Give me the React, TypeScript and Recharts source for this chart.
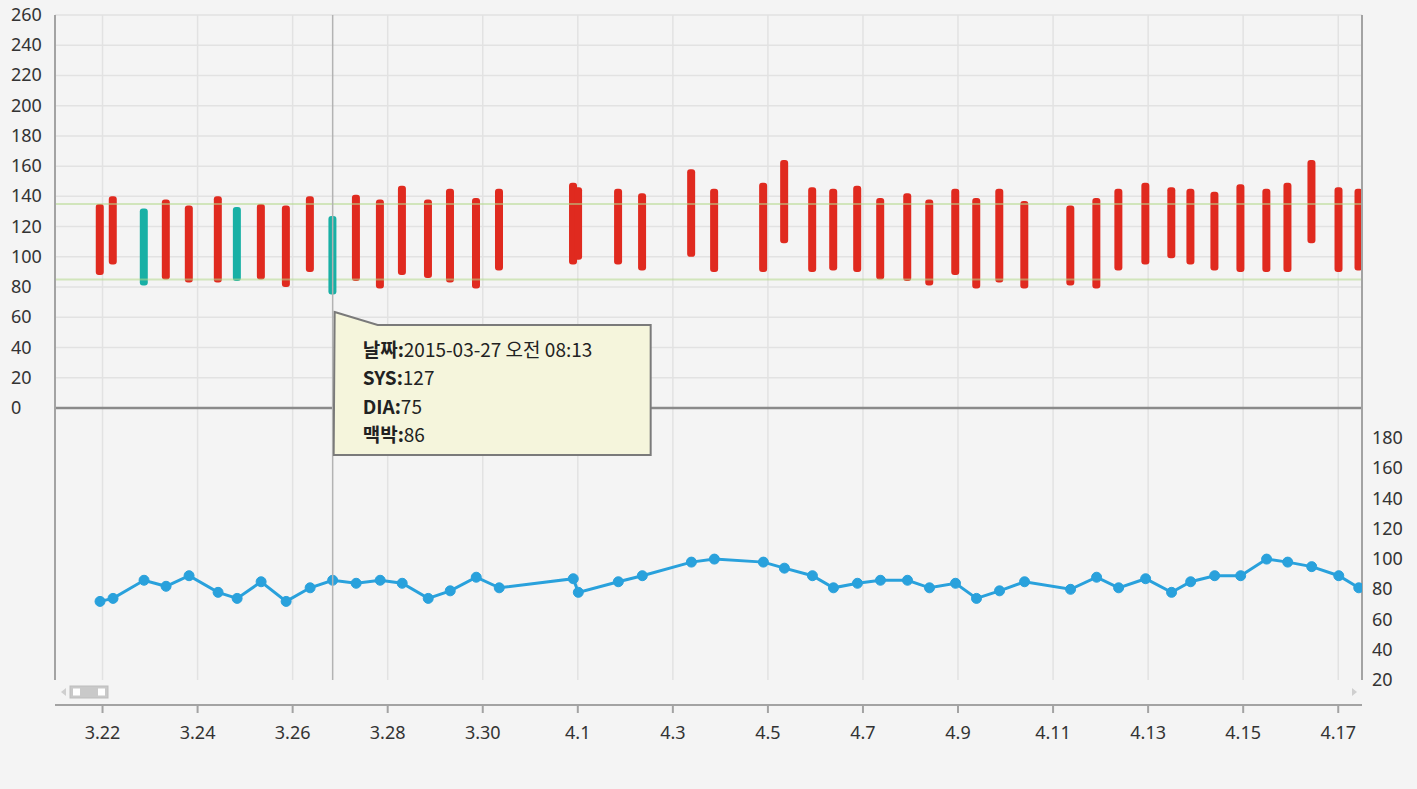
import React from 'react';
import {
  ComposedChart,
  Bar,
  Line,
  XAxis,
  YAxis,
  CartesianGrid,
  ReferenceLine,
  Tooltip,
  Rectangle,
} from 'recharts';

// ---------- data ----------
const YEAR = 2015;

const times = [
  '03-22 10:44', '03-22 17:18', '03-23 08:58', '03-23 20:05', '03-24 07:42',
  '03-24 22:21', '03-25 07:58', '03-25 20:05', '03-26 08:43', '03-26 20:50',
  '03-27 08:13', '03-27 20:05', '03-28 08:12', '03-28 19:19', '03-29 08:28',
  '03-29 19:35', '03-30 08:43', '03-30 20:20', '04-01 09:43', '04-01 12:16',
  '04-02 08:28', '04-02 20:35', '04-03 21:22', '04-04 08:58', '04-05 09:43',
  '04-05 20:20', '04-06 10:29', '04-06 21:06', '04-07 09:13', '04-07 20:50',
  '04-08 10:29', '04-08 21:36', '04-09 10:44', '04-09 21:20', '04-10 08:58',
  '04-10 21:36', '04-11 20:50', '04-12 09:59', '04-12 21:06', '04-13 10:44',
  '04-13 23:50', '04-14 09:29', '04-14 21:36', '04-15 10:44', '04-15 23:50',
  '04-16 10:29', '04-16 22:36', '04-17 12:16', '04-17 22:22',
];

const sysValues = [
  135, 140, 132, 138, 134, 140, 133, 135, 134, 140,
  127, 141, 138, 147, 138, 145, 139, 145, 149, 146,
  145, 142, 158, 145, 149, 164, 146, 145, 147, 139,
  142, 138, 145, 139, 145, 137, 134, 139, 145, 149,
  146, 145, 143, 148, 145, 149, 164, 146, 145,
];

const diaValues = [
  88, 95, 81, 85, 83, 83, 84, 85, 80, 90,
  75, 84, 79, 88, 86, 83, 79, 91, 95, 98,
  95, 91, 100, 90, 90, 109, 90, 91, 90, 85,
  84, 81, 88, 79, 83, 79, 81, 79, 91, 95,
  99, 95, 91, 90, 90, 90, 109, 90, 91,
];

const pulseValues = [
  72, 74, 86, 82, 89, 78, 74, 85, 72, 81,
  86, 84, 86, 84, 74, 79, 88, 81, 87, 78,
  85, 89, 98, 100, 98, 94, 89, 81, 84, 86,
  86, 81, 84, 74, 79, 85, 80, 88, 81, 87,
  78, 85, 89, 89, 100, 98, 95, 89, 81,
];

// n = normal (teal), h = high (red)
const statusValues = [
  'h', 'h', 'n', 'h', 'h', 'h', 'n', 'h', 'h', 'h',
  'n', 'h', 'h', 'h', 'h', 'h', 'h', 'h', 'h', 'h',
  'h', 'h', 'h', 'h', 'h', 'h', 'h', 'h', 'h', 'h',
  'h', 'h', 'h', 'h', 'h', 'h', 'h', 'h', 'h', 'h',
  'h', 'h', 'h', 'h', 'h', 'h', 'h', 'h', 'h',
];

const tickLabels = [
  '3.22', '3.24', '3.26', '3.28', '3.30', '4.1', '4.3',
  '4.5', '4.7', '4.9', '4.11', '4.13', '4.15', '4.17',
];

const bpTicks = [0, 20, 40, 60, 80, 100, 120, 140, 160, 180, 200, 220, 240, 260];
const pulseTicks = [20, 40, 60, 80, 100, 120, 140, 160, 180];
const bpDomain: [number, number] = [-180, 260];
const pulseDomain: [number, number] = [20, 460];
const xDomain: [number, number] = [0.5, 28];
const refHigh = 135;
const refLow = 85;
const TOOLTIP_INDEX = 10;

// ---------- helpers ----------
const dayOffset = (month: number, day: number) => (month === 3 ? day - 21 : day + 10);

const parseTime = (s: string) => {
  const [md, hm] = s.split(' ');
  const [mo, d] = md.split('-').map(Number);
  const [h, m] = hm.split(':').map(Number);
  return dayOffset(mo, d) + h / 24 + m / 1440;
};

const tickValues = tickLabels.map((l) => {
  const [mo, d] = l.split('.').map(Number);
  return dayOffset(mo, d) + 0.5;
});

const labelFor = (v: number) => {
  const i = tickValues.findIndex((t) => Math.abs(t - v) < 1e-6);
  return i >= 0 ? tickLabels[i] : '';
};

const data = times.map((t, i) => ({
  time: t,
  x: parseTime(t),
  sys: sysValues[i],
  dia: diaValues[i],
  pulse: pulseValues[i],
  status: statusValues[i],
}));

const RED = '#e02a1f';
const TEAL = '#18b0a5';
const BLUE = '#29a1dc';
const GRID = '#e2e2e2';
const AXIS = '#a3a3a3';
const BAR_W = 8;
const FONT = '"Noto Sans", "DejaVu Sans", sans-serif';
const KFONT = '"Noto Sans CJK KR", "Noto Sans", sans-serif';

const formatDate = (t: string) => {
  const [md, hm] = t.split(' ');
  const [h, m] = hm.split(':').map(Number);
  const ampm = h < 12 ? '오전' : '오후';
  const h12 = h % 12 === 0 && h >= 12 ? 12 : h % 12;
  return `${YEAR}-${md} ${ampm} ${String(h12).padStart(2, '0')}:${String(m).padStart(2, '0')}`;
};

const LeftTick = (props: any) => {
  const { y, payload } = props;
  return (
    <text x={11} y={y} dy={6} fontSize={18} fill="#333" fontFamily={FONT} textAnchor="start">
      {payload.value}
    </text>
  );
};

const RightTick = (props: any) => {
  const { y, payload } = props;
  return (
    <text x={1372} y={y} dy={6} fontSize={18} fill="#333" fontFamily={FONT} textAnchor="start">
      {payload.value}
    </text>
  );
};

// widen each range bar around the centre the library computed
const BpBar = (props: any) => {
  const { x, y, width, height, payload } = props;
  const cx = x + width / 2;
  return (
    <Rectangle
      x={cx - BAR_W / 2}
      y={y}
      width={BAR_W}
      height={height}
      radius={3}
      fill={payload.status === 'n' ? TEAL : RED}
    />
  );
};

const TipContent = (props: any) => {
  const { active, payload } = props;
  if (!active || !payload || !payload.length) return null;
  const d = payload[0].payload;
  const rows: [string, string][] = [
    ['날짜:', formatDate(d.time)],
    ['SYS:', String(d.sys)],
    ['DIA:', String(d.dia)],
    ['맥박:', String(d.pulse)],
  ];
  return (
    <div style={{ position: 'relative', width: 320, height: 147 }}>
      <svg width={320} height={147} style={{ position: 'absolute', left: 0, top: 0 }}>
        <polygon
          points="2,2 45,15 318,15 318,145 1,145"
          fill="#f5f5dc"
          stroke="#7a7a7a"
          strokeWidth={2}
        />
      </svg>
      <div
        style={{
          position: 'absolute',
          left: 30,
          top: 25,
          fontFamily: KFONT,
          fontSize: 19,
          lineHeight: '28.4px',
          color: '#222',
          whiteSpace: 'nowrap',
        }}
      >
        {rows.map(([k, v]) => (
          <div key={k}>
            <span style={{ fontWeight: 700 }}>{k}</span>
            <span>{v}</span>
          </div>
        ))}
      </div>
    </div>
  );
};

export default function App() {
  return (
    <div style={{ position: 'relative', width: 1417, height: 789, background: '#f4f4f4' }}>
      <style>{'body{margin:0;background:#f4f4f4;}'}</style>

      {/* x axis (drawn first so the main chart sits above it) */}
      <div style={{ position: 'absolute', left: 0, top: 680 }}>
        <ComposedChart
          width={1417}
          height={80}
          data={data}
          margin={{ top: 0, right: 55, bottom: 0, left: 55 }}
        >
          <XAxis
            dataKey="x"
            type="number"
            domain={xDomain}
            ticks={tickValues}
            interval={0}
            allowDataOverflow
            height={55}
            tickFormatter={labelFor}
            axisLine={{ stroke: AXIS, strokeWidth: 2 }}
            tickLine={{ stroke: AXIS, strokeWidth: 2 }}
            tickSize={8}
            tickMargin={13}
            tick={{ fontSize: 18, fill: '#333', fontFamily: FONT }}
          />
          <YAxis hide domain={pulseDomain} />
          <Line
            dataKey="pulse"
            stroke="transparent"
            dot={false}
            activeDot={false}
            isAnimationActive={false}
          />
        </ComposedChart>
      </div>

      {/* scrollbar decoration */}
      <svg
        width={1417}
        height={24}
        style={{ position: 'absolute', left: 0, top: 680 }}
      >
        <polygon points="66,8 66,16 61,12" fill="#cfcfcf" />
        <rect x={70} y={6} width={38} height={12} fill="#c9c9c9" stroke="#bdbdbd" />
        <rect x={73} y={8.5} width={7} height={7} fill="#ffffff" />
        <rect x={98} y={8.5} width={7} height={7} fill="#ffffff" />
        <polygon points="1352,8 1352,16 1357,12" fill="#cfcfcf" />
      </svg>

      {/* main chart: blood pressure bars (top) + pulse line (bottom) */}
      <div style={{ position: 'absolute', left: 0, top: 0 }}>
        <ComposedChart
          width={1417}
          height={700}
          data={data}
          margin={{ top: 15, right: 0, bottom: 20, left: 0 }}
        >
          <CartesianGrid
            yAxisId="bp"
            stroke={GRID}
            strokeWidth={1.5}
            horizontalValues={bpTicks}
          />
          <XAxis
            dataKey="x"
            type="number"
            domain={xDomain}
            ticks={tickValues}
            allowDataOverflow
            hide
          />
          <YAxis
            yAxisId="bp"
            orientation="left"
            width={55}
            type="number"
            domain={bpDomain}
            ticks={bpTicks}
            interval={0}
            allowDataOverflow
            tickLine={false}
            axisLine={{ stroke: AXIS, strokeWidth: 2 }}
            tick={<LeftTick />}
          />
          <YAxis
            yAxisId="pulse"
            orientation="right"
            width={55}
            type="number"
            domain={pulseDomain}
            ticks={pulseTicks}
            interval={0}
            allowDataOverflow
            tickLine={false}
            axisLine={{ stroke: AXIS, strokeWidth: 2 }}
            tick={<RightTick />}
          />
          <ReferenceLine yAxisId="bp" y={0} stroke="#8a8a8a" strokeWidth={2.5} />
          <Tooltip
            defaultIndex={TOOLTIP_INDEX}
            content={<TipContent />}
            cursor={{ stroke: '#b3b3b3', strokeWidth: 1.5 }}
            position={{ y: 310 }}
            offset={0}
            isAnimationActive={false}
          />
          <Bar
            yAxisId="bp"
            dataKey={(d: any) => [d.dia, d.sys]}
            barSize={BAR_W}
            shape={<BpBar />}
            activeBar={<BpBar />}
            isAnimationActive={false}
          />
          <ReferenceLine
            yAxisId="bp"
            y={refHigh}
            stroke="#b4d98c"
            strokeOpacity={0.55}
            strokeWidth={2}
          />
          <ReferenceLine
            yAxisId="bp"
            y={refLow}
            stroke="#b4d98c"
            strokeOpacity={0.55}
            strokeWidth={2}
          />
          <Line
            yAxisId="pulse"
            dataKey="pulse"
            type="linear"
            stroke={BLUE}
            strokeWidth={3}
            dot={{ r: 5, fill: BLUE, stroke: BLUE, strokeWidth: 1 }}
            activeDot={false}
            isAnimationActive={false}
          />
        </ComposedChart>
      </div>
    </div>
  );
}
